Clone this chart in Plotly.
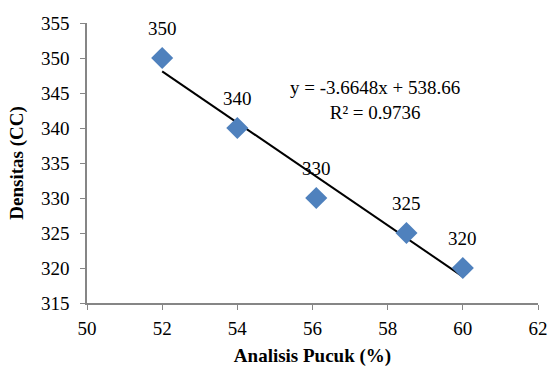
import plotly.graph_objects as go
import numpy as np

# Data
analisis_pucuk = [52, 54, 56.1, 58.5, 60]
densitas = [350, 340, 330, 325, 320]
point_labels = ["350", "340", "330", "325", "320"]
trend_slope = -3.6648
trend_intercept = 538.66
r_squared = 0.9736
x_ticks = [50, 52, 54, 56, 58, 60, 62]
y_ticks = [315, 320, 325, 330, 335, 340, 345, 350, 355]

FONT = "Liberation Serif"
AXIS_COLOR = "#868686"
FS = 19

fig = go.Figure()

trend_x = np.array([min(analisis_pucuk), max(analisis_pucuk)])
trend_y = trend_slope * trend_x + trend_intercept
fig.add_trace(go.Scatter(x=trend_x, y=trend_y, mode="lines",
                         line=dict(color="black", width=2), showlegend=False,
                         hoverinfo="skip"))

fig.add_trace(go.Scatter(x=analisis_pucuk, y=densitas, mode="markers",
                         marker=dict(symbol="diamond", size=17, color="#4F81BD",
                                     line=dict(width=0)),
                         showlegend=False))

for x, y, t in zip(analisis_pucuk, densitas, point_labels):
    fig.add_annotation(x=x, y=y, text=t, showarrow=False, yshift=30,
                       font=dict(family=FONT, size=FS, color="black"))

fig.add_annotation(x=57.67, y=344.0,
                   text=f"y = {trend_slope}x + {trend_intercept}<br>R² = {r_squared}",
                   showarrow=False, align="center",
                   font=dict(family=FONT, size=FS, color="black"))

fig.update_layout(
    width=549, height=367,
    margin=dict(l=87, r=11, t=23, b=64),
    paper_bgcolor="white", plot_bgcolor="white",
    font=dict(family=FONT, size=FS, color="black"),
    xaxis=dict(range=[50, 62], tickvals=x_ticks, showgrid=False, zeroline=False,
               showline=True, linecolor=AXIS_COLOR, linewidth=1.5,
               ticks="outside", ticklen=5, tickcolor=AXIS_COLOR, automargin=False,
               ticklabelstandoff=2,
               title=dict(text="<b>Analisis Pucuk (%)</b>", font=dict(size=FS), standoff=14)),
    yaxis=dict(range=[315, 355], tickvals=y_ticks, showgrid=False, zeroline=False,
               showline=True, linecolor=AXIS_COLOR, linewidth=1.5,
               ticks="outside", ticklen=5, tickcolor=AXIS_COLOR, automargin=False,
               ticklabelstandoff=7,
               title=dict(text="<b>Densitas (CC)</b>", font=dict(size=FS), standoff=12)),
)

fig.write_html("out.html", config={"displayModeBar": False},
               post_script="document.body.style.margin='0';document.body.style.overflow='hidden';")
